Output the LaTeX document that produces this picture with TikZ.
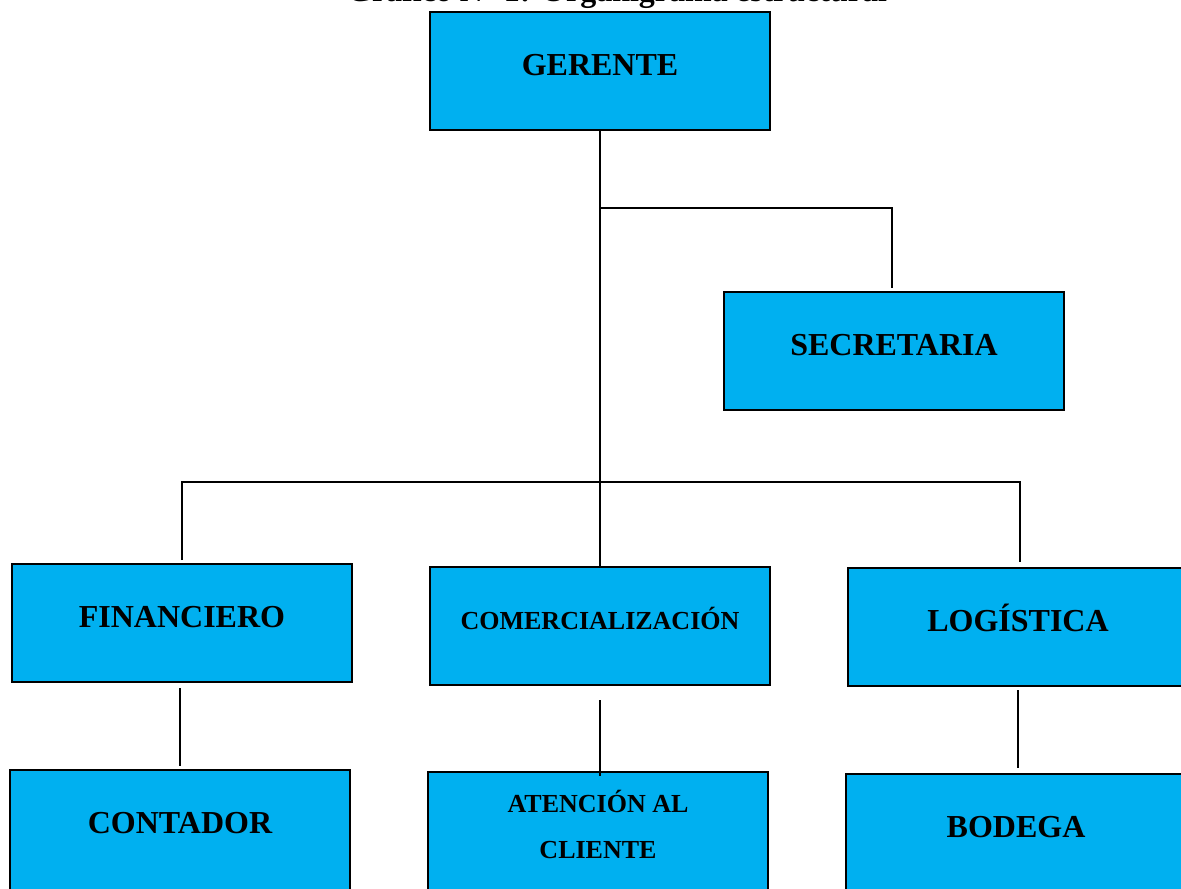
\documentclass[tikz,border=0pt]{standalone}
\usepackage{fontspec}
\setmainfont{Liberation Serif}
\definecolor{boxblue}{HTML}{00B0F0}
\begin{document}
\begin{tikzpicture}[x=1pt,y=-1pt,
  box/.style={draw=black, line width=2pt, fill=boxblue, minimum width=340pt, minimum height=118pt, inner sep=0pt},
  tallbox/.style={box, minimum height=130pt},
  lbl/.style={font=\bfseries\fontsize{32}{38}\selectfont, anchor=base, inner sep=0pt},
  slbl/.style={font=\bfseries\fontsize{26}{46}\selectfont, anchor=base, inner sep=0pt, align=center},
  conn/.style={line width=2pt}]
\useasboundingbox (0,0) rectangle (1181,889);
\node[lbl] (title) at (617,1) {Gráfico N° 1: Organigrama estructural};
% boxes
\node[box] (ger) at (600,71) {};
\node[box] (sec) at (894,351) {};
\node[box] (fin) at (182,623) {};
\node[box] (com) at (600,626) {};
\node[box] (log) at (1018,627) {};
\node[tallbox] (con) at (180,835) {};
\node[tallbox] (ate) at (598,837) {};
\node[tallbox] (bod) at (1016,839) {};
% labels
\node[lbl] (gerT) at (600,75) {GERENTE};
\node[lbl] (secT) at (894,355) {SECRETARIA};
\node[lbl] (finT) at (182,627) {FINANCIERO};
\node[slbl] (comT) at (600,629) {COMERCIALIZACIÓN};
\node[lbl] (logT) at (1018,631) {LOGÍSTICA};
\node[lbl] (conT) at (180,833) {CONTADOR};
\node[slbl] (ateT) at (598,858) {ATENCIÓN AL\\CLIENTE};
\node[lbl] (bodT) at (1016,837) {BODEGA};
% connector coordinates
\coordinate (j1) at (600,208);
\coordinate (s1) at (892,208);
\coordinate (s2) at (892,288);
\coordinate (hL) at (182,482);
\coordinate (hR) at (1020,482);
\coordinate (fL) at (182,560);
\coordinate (fR) at (1020,562);
\coordinate (a1) at (180,688);
\coordinate (a2) at (180,766);
\coordinate (b1) at (600,700);
\coordinate (b2) at (600,776);
\coordinate (c1) at (1018,690);
\coordinate (c2) at (1018,768);
% connectors
\draw[conn] (ger.south) -- (com.north);
\draw[conn] (j1) -- (s1) -- (s2);
\draw[conn] (fL) -- (hL) -- (hR) -- (fR);
\draw[conn] (a1) -- (a2);
\draw[conn] (b1) -- (b2);
\draw[conn] (c1) -- (c2);
\end{tikzpicture}
\end{document}
